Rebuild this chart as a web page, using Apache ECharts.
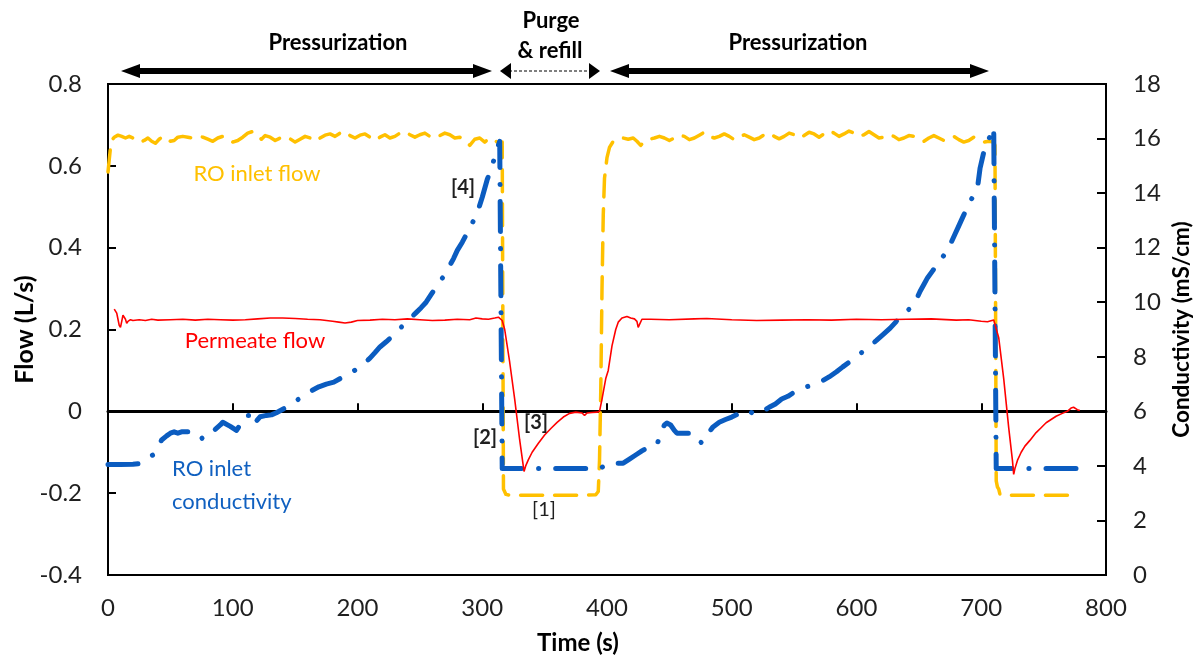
<!DOCTYPE html>
<html>
<head>
<meta charset="utf-8">
<script src="https://cdn.jsdelivr.net/npm/echarts@6/dist/echarts.min.js"></script>
<style>
  html, body { margin: 0; padding: 0; background: #fff; }
  #chart { width: 1200px; height: 659px; }
</style>
</head>
<body>
<div id="chart"></div>
<script>
// RO inlet flow (L/s), left axis
const inletFlowTime = [0,1,2,3,5,8,11,14,17,20,23,26,29,32,35,38,41,44,47,50,53,56,60,64,68,72,76,80,84,88,92,96,100,104,108,112,116,120,123,126,130,134,138,142,146,150,154,158,162,166,170,174,178,182,186,190,194,198,202,206,210,214,218,222,226,230,234,238,242,246,250,254,258,262,266,270,274,278,282,286,290,294,298,302,306,310,313,316,317,319,322,340,360,380,391,393,394,395,396,397,398,400,402,405,409,413,417,421,424,427,430,434,438,442,446,450,454,458,462,466,470,474,478,482,486,490,494,498,502,506,510,514,518,522,526,530,534,538,542,546,550,554,558,562,566,570,574,578,582,586,590,594,598,602,606,610,614,618,622,626,630,634,638,642,646,650,654,658,662,666,670,674,678,682,686,690,694,698,702,706,710,711,712,713,714,715,718,740,760,777];
const inletFlow = [0.585,0.615,0.645,0.662,0.670,0.675,0.672,0.668,0.672,0.668,0.660,0.658,0.662,0.668,0.660,0.655,0.665,0.672,0.668,0.660,0.662,0.670,0.672,0.670,0.668,0.672,0.670,0.665,0.660,0.668,0.672,0.665,0.658,0.662,0.670,0.680,0.684,0.672,0.665,0.674,0.670,0.662,0.668,0.672,0.666,0.658,0.665,0.672,0.668,0.660,0.668,0.675,0.678,0.672,0.680,0.684,0.674,0.668,0.675,0.678,0.670,0.662,0.670,0.676,0.668,0.672,0.680,0.684,0.676,0.670,0.676,0.680,0.672,0.668,0.674,0.680,0.676,0.668,0.670,0.662,0.650,0.665,0.668,0.658,0.668,0.662,0.656,0.658,-0.190,-0.203,-0.205,-0.205,-0.205,-0.205,-0.204,-0.196,-0.120,0.050,0.300,0.480,0.570,0.620,0.645,0.660,0.666,0.668,0.665,0.668,0.660,0.650,0.660,0.665,0.668,0.672,0.668,0.662,0.668,0.675,0.672,0.664,0.668,0.675,0.682,0.672,0.668,0.672,0.678,0.672,0.664,0.670,0.676,0.670,0.664,0.668,0.676,0.680,0.672,0.666,0.672,0.680,0.676,0.668,0.674,0.682,0.678,0.670,0.678,0.686,0.680,0.672,0.678,0.685,0.680,0.672,0.676,0.684,0.676,0.668,0.670,0.676,0.672,0.664,0.668,0.674,0.672,0.664,0.660,0.668,0.674,0.668,0.662,0.666,0.672,0.664,0.658,0.662,0.670,0.664,0.658,0.660,0.658,0.650,-0.170,-0.185,-0.190,-0.203,-0.205,-0.205,-0.205,-0.205];

// Permeate flow (L/s), left axis
const permeateTime = [5,6,7,8,9,10,11,12,13,14,15,16,18,20,25,30,35,40,50,60,70,80,90,100,110,120,130,140,150,160,170,180,185,190,195,200,210,220,230,240,250,260,270,280,290,295,300,305,310,313,316,318,322,326,330,333.5,335,337,340,345,350,355,360,365,370,375,380,382,384,388,392,394,396,399,401,404,407,409,412,416,419,422,424,425,426,428,435,450,470,480,500,520,540,560,580,600,620,640,660,680,690,700,705,710,711,714,718,722,725,726,727,729,732,735,739,744,748,752,756,760,765,769,772,774,777,779];
const permeateFlow = [0.250,0.245,0.240,0.225,0.210,0.205,0.220,0.235,0.238,0.225,0.215,0.220,0.224,0.222,0.224,0.222,0.225,0.223,0.224,0.225,0.223,0.225,0.224,0.223,0.224,0.226,0.228,0.228,0.227,0.225,0.224,0.220,0.218,0.216,0.218,0.222,0.223,0.225,0.224,0.226,0.224,0.222,0.223,0.225,0.224,0.228,0.226,0.225,0.228,0.230,0.222,0.200,0.120,0.030,-0.070,-0.147,-0.132,-0.118,-0.100,-0.078,-0.058,-0.042,-0.027,-0.014,-0.005,-0.002,-0.004,-0.010,-0.004,-0.003,-0.002,0.000,0.030,0.080,0.100,0.160,0.200,0.218,0.228,0.232,0.228,0.226,0.220,0.205,0.212,0.225,0.225,0.224,0.226,0.227,0.224,0.222,0.223,0.224,0.223,0.225,0.224,0.225,0.226,0.223,0.224,0.220,0.219,0.223,0.222,0.180,0.080,-0.040,-0.120,-0.154,-0.140,-0.120,-0.100,-0.085,-0.071,-0.052,-0.040,-0.028,-0.020,-0.012,-0.005,0.000,0.008,0.010,0.004,0.002];

// RO inlet conductivity (mS/cm), right axis
const condTime = [0,10,20,25,28,32,36,40,43,47,50,53,56,59,64,71,76,80,85,90,92,98,103,108,110,113,116,119,122,127,131,135,139,145,150,157,163,169,175,181,186,191,196,201,205,210,214,218,223,228,232,237,242,247,251,255,260,265,270,274,277,280,284,288,292,296,300,304,308,311,314,315,316,330,350,370,390,394,398,401,406,413,418,423,428,432,436,440,444,446,448,451,454,456,462,469,473,476,479,482,485,490,495,500,505,509,513,516,519,522,525,530,535,540,545,550,555,560,565,572,578,584,589,594,599,604,608,612,616,621,627,632,637,641,645,648,651,654,657,661,665,669,673,676,679,682,685,689,693,697,699,702,705,708,710,711,712,720,740,760,781];
const inletConductivity = [4.05,4.05,4.06,4.08,4.20,4.30,4.40,4.70,4.95,5.10,5.20,5.25,5.20,5.25,5.25,5.24,4.98,5.10,5.30,5.50,5.60,5.45,5.30,5.65,5.85,5.85,5.50,5.65,5.80,5.85,5.87,5.95,6.05,6.20,6.35,6.60,6.75,6.90,7.00,7.07,7.20,7.35,7.45,7.60,7.75,7.95,8.15,8.36,8.55,8.75,8.95,9.17,9.40,9.62,9.80,10.00,10.35,10.70,11.00,11.35,11.60,11.90,12.20,12.55,12.90,13.27,13.85,14.50,15.00,15.50,15.90,15.90,3.90,3.90,3.90,3.90,3.90,3.90,4.00,4.10,4.10,4.10,4.25,4.40,4.55,4.66,4.70,4.77,5.30,5.50,5.57,5.50,5.30,5.20,5.20,5.20,4.95,4.84,5.00,5.25,5.43,5.60,5.70,5.79,5.90,6.00,6.05,5.95,6.05,6.00,6.00,6.15,6.27,6.45,6.55,6.70,6.80,6.90,6.97,7.10,7.26,7.45,7.63,7.80,7.95,8.15,8.32,8.45,8.60,8.80,9.05,9.30,9.50,9.70,9.85,10.10,10.40,10.65,10.90,11.15,11.40,11.65,11.90,12.20,12.50,12.80,13.10,13.50,13.85,14.20,14.90,15.50,15.85,16.20,16.40,16.40,3.90,3.90,3.90,3.90,3.90];

const pairs = (t, v) => t.map((x, i) => [x, v[i]]);

const FONT = 'Lato, "Open Sans", "DejaVu Sans", sans-serif';
const INK = '#1f1f1f';

// Phase arrows above the plot: shaft plus triangular heads
function arrow(x1, x2, y, opts) {
  const thick = opts.thick;
  const head = thick ? 19 : 11;
  const half = thick ? 7 : 8;
  return [{
    type: 'line',
    shape: { x1: x1 + head - 2, y1: y, x2: x2 - head + 2, y2: y },
    style: thick
      ? { stroke: '#000', lineWidth: 6 }
      : { stroke: '#000', lineWidth: 1.2, lineDash: [3, 2] }
  }, {
    type: 'polygon',
    shape: { points: [[x1, y], [x1 + head, y - half], [x1 + head, y + half]] },
    style: { fill: '#000' }
  }, {
    type: 'polygon',
    shape: { points: [[x2, y], [x2 - head, y - half], [x2 - head, y + half]] },
    style: { fill: '#000' }
  }];
}

function label(text, x, y, color, size, bold, align) {
  return {
    type: 'text',
    x: x, y: y,
    style: {
      text: text,
      fill: color,
      font: (bold ? 'bold ' : '') + size + 'px ' + FONT,
      align: align || 'center',
      verticalAlign: 'middle'
    },
    z: 10
  };
}

const chart = echarts.init(document.getElementById('chart'), null, { renderer: 'canvas' });

const axisText = { fontFamily: FONT, fontSize: 24, color: INK };
const nameText = (size, extra) => Object.assign(
  { fontFamily: FONT, fontSize: size, fontWeight: 'bold', color: '#000' }, extra || {});

chart.setOption({
  animation: false,
  backgroundColor: '#fff',
  grid: {
    left: 108, right: 94, top: 84, bottom: 84,
    show: true, borderColor: '#000', borderWidth: 2,
    containLabel: false,
    outerBoundsMode: 'none'
  },
  xAxis: [{
    type: 'value', position: 'bottom',
    min: 0, max: 800, interval: 100,
    axisLine: { show: true, onZero: false, lineStyle: { color: '#000', width: 2 } },
    axisTick: { show: false },
    splitLine: { show: false },
    axisLabel: Object.assign({ margin: 21 }, axisText),
    name: 'Time (s)', nameLocation: 'middle', nameGap: 56, nameMoveOverlap: false,
    nameTextStyle: nameText(24, { padding: [0, 58, 0, 0] })
  }, {
    // horizontal line at zero flow with upward ticks
    type: 'value', position: 'bottom',
    min: 0, max: 800, interval: 100,
    axisLine: { show: true, onZero: true, onZeroAxisIndex: 0, lineStyle: { color: '#000', width: 3 } },
    axisTick: { show: true, inside: true, length: 8, lineStyle: { color: '#000', width: 2 } },
    axisLabel: { show: false },
    splitLine: { show: false }
  }],
  yAxis: [{
    type: 'value', position: 'left',
    min: -0.4, max: 0.8, interval: 0.2,
    axisLine: { show: true, onZero: false, lineStyle: { color: '#000', width: 2 } },
    axisTick: { show: true, inside: true, length: 8, lineStyle: { color: '#000', width: 2 } },
    splitLine: { show: false },
    axisLabel: Object.assign({ margin: 26 }, axisText),
    name: 'Flow (L/s)', nameLocation: 'middle', nameGap: 71, nameRotate: 90, nameMoveOverlap: false,
    nameTextStyle: nameText(25)
  }, {
    type: 'value', position: 'right',
    min: 0, max: 18, interval: 2,
    axisLine: { show: true, onZero: false, lineStyle: { color: '#000', width: 2 } },
    axisTick: { show: true, inside: true, length: 9, lineStyle: { color: '#000', width: 2 } },
    splitLine: { show: false },
    axisLabel: Object.assign({ margin: 27 }, axisText),
    name: 'Conductivity (mS/cm)', nameLocation: 'middle', nameGap: 64, nameRotate: 90, nameMoveOverlap: false,
    nameTextStyle: nameText(22.5)
  }],
  series: [{
    type: 'line', name: 'RO inlet flow',
    xAxisIndex: 0, yAxisIndex: 0,
    data: pairs(inletFlowTime, inletFlow),
    symbol: 'none', showSymbol: false,
    lineStyle: { color: '#FFC000', width: 3.5, type: [22, 12], cap: 'round', join: 'round' },
    z: 3
  }, {
    type: 'line', name: 'RO inlet conductivity',
    xAxisIndex: 0, yAxisIndex: 1,
    data: pairs(condTime, inletConductivity),
    symbol: 'none', showSymbol: false,
    lineStyle: { color: '#0B5CC0', width: 5, type: [30, 17, 0.1, 17], cap: 'round', join: 'round' },
    z: 4
  }, {
    type: 'line', name: 'Permeate flow',
    xAxisIndex: 0, yAxisIndex: 0,
    data: pairs(permeateTime, permeateFlow),
    symbol: 'none', showSymbol: false,
    lineStyle: { color: '#FF0000', width: 1.6 },
    z: 5
  }],
  graphic: [].concat(
    arrow(121, 492, 71, { thick: true }),
    arrow(500, 600, 71, { thick: false }),
    arrow(610, 989, 71, { thick: true }),
    [
      label('Pressurization', 338, 43, '#000', 22, true),
      label('Purge', 551, 21, '#000', 22, true),
      label('& refill', 550, 51, '#000', 22, true),
      label('Pressurization', 798, 43, '#000', 22, true),
      label('RO inlet flow', 257, 174, '#FFC000', 22, false),
      label('Permeate flow', 255, 341, '#FF0000', 22, false),
      label('RO inlet', 172, 469, '#1060C0', 22, false, 'left'),
      label('conductivity', 172, 502, '#1060C0', 22, false, 'left'),
      label('[4]', 463, 188, INK, 20, true),
      label('[2]', 485, 438, INK, 20, true),
      label('[3]', 536, 423, INK, 20, true),
      label('[1]', 544, 510, INK, 20, false)
    ]
  )
});
</script>
</body>
</html>
